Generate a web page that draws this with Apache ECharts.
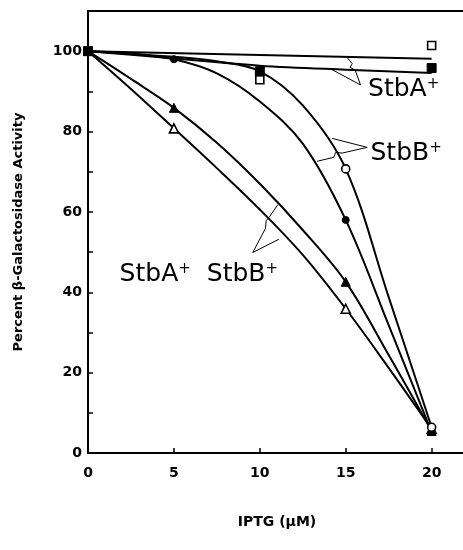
<!DOCTYPE html>
<html><head><meta charset="utf-8">
<script src="https://cdn.jsdelivr.net/npm/echarts@6/dist/echarts.min.js"></script>
<style>html,body{margin:0;padding:0;background:#fff}#c{width:463px;height:550px}</style>
</head><body><div id="c"></div>
<script>
// tick labels
const xTickLabels = [0, 5, 10, 15, 20];
const yTickLabels = [0, 20, 40, 60, 80, 100];

// measured points
const openSquares     = [[0, 100], [10, 92.9], [20, 101.4]];
const filledSquares   = [[0, 100], [10, 95.0], [20, 95.8]];
const openCircles     = [[15, 70.7], [20, 6.4]];
const filledCircles   = [[5, 98.0], [15, 58.0], [20, 5.2]];
const filledTriangles = [[5, 85.9], [15, 42.6], [20, 5.5]];
const openTriangles   = [[5, 80.8], [15, 35.9], [20, 6.0]];

// fitted curves
const fitOpenSquares     = [[0, 100], [20, 98.1]];
const fitFilledSquares   = [[0, 100], [5, 98.2], [10, 96.4], [15, 95.4], [20, 94.6]];
const fitOpenCircles     = [[0, 100], [5, 98.6], [7.5, 97.5], [10, 95.0], [12.5, 86.5], [15, 70.7], [17.5, 38.8], [20, 6.4]];
const fitFilledCircles   = [[0, 100], [2.5, 99.4], [5, 98.0], [7.5, 94.5], [10, 87.5], [12.5, 77], [15, 58.0], [17.5, 31.8], [20, 5.2]];
const fitFilledTriangles = [[0, 100], [2.5, 93.1], [5, 85.9], [7.5, 77.2], [10, 67.0], [12.5, 55.5], [15, 42.6], [17.5, 24.4], [20, 5.5]];
const fitOpenTriangles   = [[0, 100], [2.5, 90.6], [5, 80.8], [7.5, 70.9], [10, 60.6], [12.5, 49.3], [15, 35.9], [17.5, 21.2], [20, 6.0]];

// annotation callouts (data coordinates)
const calloutA  = [[14.12, 95.6], [15.86, 91.6], [15.55, 95.3], [15.25, 96.0], [15.38, 96.9], [15.1, 98.3]];
const calloutB  = [[14.21, 78.3], [16.25, 76.06], [14.8, 74.65], [14.41, 74.8], [14.31, 73.6], [13.34, 72.6]];
const calloutAB = [[11.11, 53.2], [9.59, 49.9], [10.33, 55.9], [10.37, 57.8], [10.58, 58.9], [11.05, 61.8]];
const annotTexts   = ['{m|StbA}{s|+}', '{m|StbB}{s|+}', '{m|StbA}{s|+}{g|}{m|StbB}{s|+}'];
const annotAnchors = [[16.3, 90.4], [16.44, 74.6], [1.84, 44.3]];

const INK = '#000';
const chart = echarts.init(document.getElementById('c'), null, {renderer: 'canvas'});

function fit(data) {
  return {type: 'line', data, smooth: 0.35, showSymbol: false, silent: true,
    lineStyle: {color: INK, width: 2, opacity: 1}, z: 2};
}
function callout(data) {
  return {type: 'line', data, smooth: false, showSymbol: false, silent: true,
    lineStyle: {color: INK, width: 1, opacity: 1}, z: 2};
}
function marks(data, symbol, size, filled) {
  return {type: 'scatter', data, symbol, symbolSize: size, silent: true, z: 4,
    itemStyle: filled ? {color: INK, borderColor: INK, borderWidth: 1, opacity: 1}
                      : {color: '#fff', borderColor: INK, borderWidth: 1.6, opacity: 1}};
}

const richText = {
  m: {fontFamily: 'DejaVu Sans', fontSize: 25, lineHeight: 26, color: INK},
  s: {fontFamily: 'DejaVu Sans', fontSize: 15, lineHeight: 20, verticalAlign: 'top', color: INK},
  g: {width: 16}
};

const labelFont = {fontFamily: 'DejaVu Sans', fontWeight: 'bold', fontSize: 14, color: INK};

chart.setOption({
  animation: false,
  backgroundColor: '#fff',
  grid: {left: 88, right: -3, top: 11, bottom: 97, show: true, borderColor: INK, borderWidth: 2,
    outerBoundsMode: 'none', containLabel: false},
  xAxis: {
    type: 'value', min: 0, max: 22, interval: 5,
    name: 'IPTG (μM)', nameLocation: 'middle', nameGap: 62,
    nameTextStyle: {fontFamily: 'DejaVu Sans', fontWeight: 'bold', fontSize: 14, color: INK},
    axisLine: {show: true, lineStyle: {color: INK, width: 2}},
    axisTick: {show: true, inside: true, length: 5, lineStyle: {color: INK, width: 1.5}},
    axisLabel: Object.assign({margin: 13, formatter: v => xTickLabels.includes(v) ? String(v) : ''}, labelFont),
    splitLine: {show: false}
  },
  yAxis: {
    type: 'value', min: 0, max: 110, interval: 10,
    name: 'Percent β-Galactosidase Activity', nameLocation: 'middle', nameGap: 63,
    nameTextStyle: {fontFamily: 'DejaVu Sans', fontWeight: 'bold', fontSize: 13, color: INK},
    axisLine: {show: true, lineStyle: {color: INK, width: 2}},
    axisTick: {show: true, inside: true, length: 5, lineStyle: {color: INK, width: 1.5}},
    axisLabel: Object.assign({margin: 6, formatter: v => yTickLabels.includes(v) ? String(v) : ''}, labelFont),
    splitLine: {show: false}
  },
  series: [
    fit(fitOpenSquares), fit(fitFilledSquares), fit(fitOpenCircles), fit(fitFilledCircles),
    fit(fitFilledTriangles), fit(fitOpenTriangles),
    callout(calloutA), callout(calloutB), callout(calloutAB),
    marks(filledTriangles, 'triangle', 9, true),
    marks(openTriangles, 'triangle', 9, false),
    marks(filledCircles, 'circle', 7, true),
    marks(openCircles, 'circle', 8, false),
    marks(openSquares, 'rect', 8, false),
    marks(filledSquares, 'rect', 9, true),
    {
      type: 'scatter', symbolSize: 0, silent: true, z: 5,
      itemStyle: {opacity: 1},
      data: annotAnchors.map((p, i) => ({value: p, label: {formatter: annotTexts[i]}})),
      label: {show: true, position: 'right', distance: 0, color: INK, opacity: 1, rich: richText}
    }
  ]
});
</script></body></html>
